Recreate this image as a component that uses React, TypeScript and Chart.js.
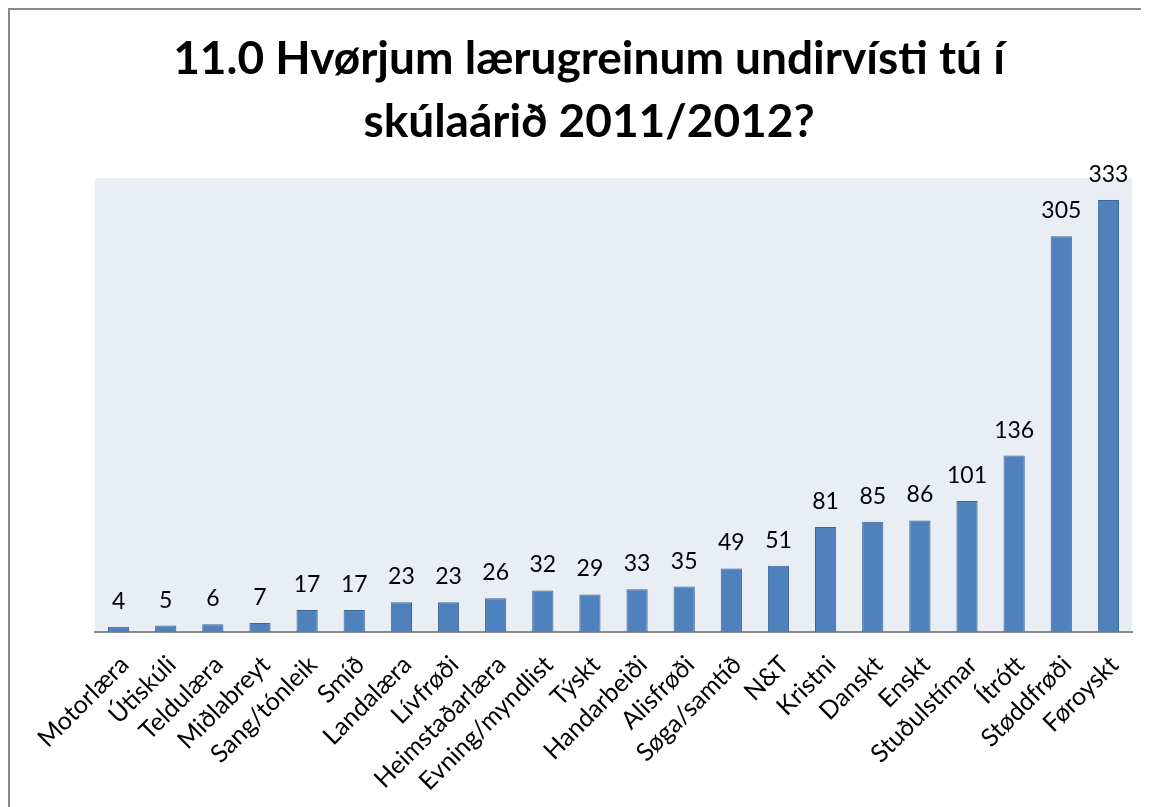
import React, { useEffect, useRef } from "react";
import { Chart, registerables } from "chart.js";

Chart.register(...registerables);

const categories = [
  "Motorlæra",
  "Útiskúli",
  "Teldulæra",
  "Miðlabreyt",
  "Sang/tónleik",
  "Smíð",
  "Landalæra",
  "Lívfrøði",
  "Heimstaðarlæra",
  "Evning/myndlist",
  "Týskt",
  "Handarbeiði",
  "Alisfrøði",
  "Søga/samtíð",
  "N&T",
  "Kristni",
  "Danskt",
  "Enskt",
  "Stuðulstímar",
  "Ítrótt",
  "Støddfrøði",
  "Føroyskt",
];

const values = [4, 5, 6, 7, 17, 17, 23, 23, 26, 32, 29, 33, 35, 49, 51, 81, 85, 86, 101, 136, 305, 333];

const titleLines = ["11.0 Hvørjum lærugreinum undirvísti tú í", "skúlaárið 2011/2012?"];

const yMin = 0;
const yMax = 350;

export default function App() {
  const ref = useRef<HTMLCanvasElement>(null);

  useEffect(() => {
    document.documentElement.style.overflow = "hidden";
    const canvas = ref.current;
    if (!canvas) return;

    const plotBg = {
      id: "plotBg",
      beforeDraw(chart: any) {
        const { ctx, chartArea: a } = chart;
        ctx.save();
        ctx.fillStyle = "#E9EDF4";
        ctx.fillRect(a.left, a.top, a.right - a.left, a.bottom - a.top);
        ctx.restore();
      },
    };

    const valueLabels = {
      id: "valueLabels",
      afterDatasetsDraw(chart: any) {
        const { ctx } = chart;
        const meta = chart.getDatasetMeta(0);
        ctx.save();
        ctx.font = "23px Lato";
        ctx.fillStyle = "#000";
        ctx.textAlign = "center";
        ctx.textBaseline = "alphabetic";
        meta.data.forEach((bar: any, i: number) => {
          ctx.fillText(String(values[i]), bar.x, bar.y - 18);
        });
        ctx.restore();
      },
    };

    const titleDraw = {
      id: "titleDraw",
      afterDraw(chart: any) {
        const { ctx } = chart;
        ctx.save();
        ctx.font = "bold 46px Lato";
        ctx.fillStyle = "#000";
        ctx.textAlign = "center";
        ctx.textBaseline = "alphabetic";
        ctx.fillText(titleLines[0], 579, 64);
        ctx.fillText(titleLines[1], 579, 127);
        ctx.restore();
      },
    };

    const chart = new Chart(canvas, {
      type: "bar",
      data: {
        labels: categories,
        datasets: [
          {
            data: values,
            backgroundColor: "#4F81BD",
            borderColor: "#3B6695",
            borderWidth: 1,
            barPercentage: 0.45,
            categoryPercentage: 1,
          },
        ],
      },
      options: {
        animation: false,
        responsive: false,
        layout: { padding: { left: 85, right: 9, top: 168, bottom: 0 } },
        plugins: {
          legend: { display: false },
          tooltip: { enabled: false },
          title: { display: false },
        },
        scales: {
          x: {
            grid: { display: false },
            border: { display: true, color: "#8A8A8A", width: 2 },
            ticks: {
              autoSkip: false,
              maxRotation: 45,
              minRotation: 45,
              color: "#000",
              font: { family: "Lato", size: 25 },
              padding: 10,
              labelOffset: 6,
            },
            afterFit(s: any) {
              s.height = 175;
            },
          },
          y: { display: false, min: yMin, max: yMax },
        },
      },
      plugins: [plotBg, valueLabels, titleDraw],
    });

    return () => chart.destroy();
  }, []);

  return (
    <div
      style={{
        borderLeft: "2px solid #8A8A8A",
        borderTop: "2px solid #8A8A8A",
        width: 1131,
        height: 797,
        overflow: "hidden",
      }}
    >
      <canvas ref={ref} width={1131} height={797} style={{ display: "block" }} />
    </div>
  );
}
